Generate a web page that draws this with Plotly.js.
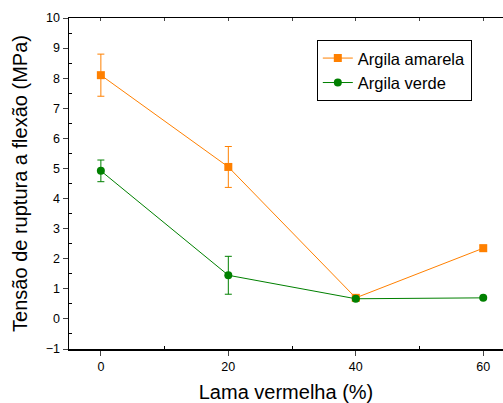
<!DOCTYPE html>
<html><head><meta charset="utf-8">
<script src="https://cdn.plot.ly/plotly-3.0.1.min.js"></script>
<style>html,body{margin:0;padding:0;background:#fff;}#chart{width:503px;height:403px;}</style>
</head><body><div id="chart"></div>
<script>
const lamaVermelha = [0, 20, 40, 60];
const argilaAmarela = [8.1, 5.05, 0.7, 2.35];
const argilaAmarelaErr = [0.7, 0.68, 0.05, 0.1];
const argilaVerde = [4.92, 1.45, 0.67, 0.7];
const argilaVerdeErr = [0.36, 0.63, 0.03, 0.03];
const seriesNames = ['Argila amarela', 'Argila verde'];

const orange = '#FF8000', green = '#008000';
const traces = [
  {x: lamaVermelha, y: argilaAmarela, name: seriesNames[0], type: 'scatter', mode: 'lines+markers',
   line: {color: orange, width: 1}, marker: {symbol: 'square', size: 8, color: orange},
   error_y: {type: 'data', array: argilaAmarelaErr, visible: true, color: orange, thickness: 1, width: 3.5}},
  {x: lamaVermelha, y: argilaVerde, name: seriesNames[1], type: 'scatter', mode: 'lines+markers',
   line: {color: green, width: 1}, marker: {symbol: 'circle', size: 8, color: green},
   error_y: {type: 'data', array: argilaVerdeErr, visible: true, color: green, thickness: 1, width: 3.5}},
  {x: [], y: [], xaxis: 'x2', showlegend: false, hoverinfo: 'skip'}
];
const font = {family: 'Liberation Sans, Arial, sans-serif', color: '#000'};
const layout = {
  width: 503, height: 403,
  margin: {l: 69, r: 0, t: 18, b: 54},
  paper_bgcolor: '#fff', plot_bgcolor: '#fff',
  font: font,
  showlegend: true,
  legend: {x: 0.571, y: 0.934, xanchor: 'left', yanchor: 'top', bordercolor: '#000', borderwidth: 1,
           font: {family: font.family, size: 16.5, color: '#000'}, bgcolor: '#fff', tracegroupgap: 0},
  xaxis: {range: [-5, 63.1], tickvals: [0, 20, 40, 60], ticks: 'outside', ticklen: 5, tickwidth: 1,
          showline: true, linecolor: '#000', linewidth: 1.5, showgrid: false, zeroline: false,
          tickfont: {size: 12.5, family: font.family},
          minor: {tickvals: [10, 30, 50], ticks: 'inside', ticklen: 3, tickcolor: '#000', showgrid: false},
          title: {text: 'Lama vermelha (%)', font: {size: 20, family: font.family}, standoff: 14}},
  xaxis2: {overlaying: 'x', side: 'top', range: [-5, 63.1], tickvals: [0, 10, 20, 30, 40, 50, 60],
           ticks: 'inside', ticklen: 3, showticklabels: false, showline: true, linecolor: '#000',
           linewidth: 1.5, showgrid: false, zeroline: false},
  yaxis: {range: [-1, 10], tickvals: [-1,0,1,2,3,4,5,6,7,8,9,10], ticks: 'outside', ticklen: 5,
          showline: true, linecolor: '#000', linewidth: 1.5, showgrid: false, zeroline: false,
          tickfont: {size: 12.5, family: font.family},
          minor: {tickvals: [-0.5,0.5,1.5,2.5,3.5,4.5,5.5,6.5,7.5,8.5,9.5], ticks: 'inside', ticklen: 3, tickcolor: '#000', showgrid: false},
          title: {text: 'Tensão de ruptura a flexão (MPa)', font: {size: 20, family: font.family}, standoff: 12}}
};
Plotly.newPlot('chart', traces, layout, {displayModeBar: false, staticPlot: true});
</script></body></html>
